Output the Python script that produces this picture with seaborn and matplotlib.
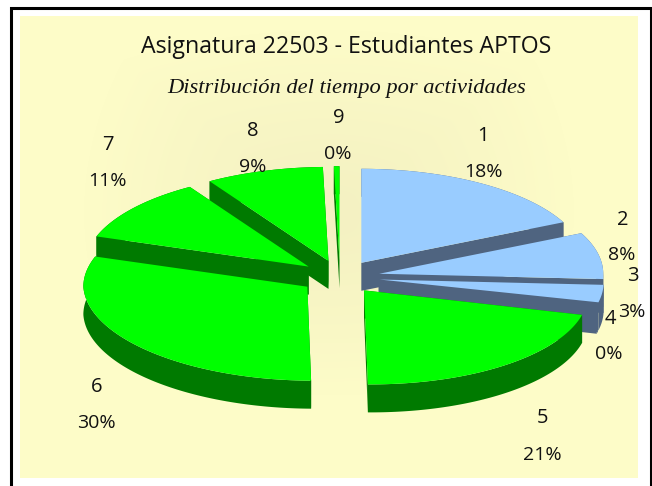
import numpy as np
import matplotlib
matplotlib.use("Agg")
import matplotlib.pyplot as plt
from matplotlib.patches import Rectangle
from matplotlib.colors import LinearSegmentedColormap
import seaborn as sns

# -------------------------------------------------------------
# Data
# -------------------------------------------------------------
activities = ["1", "2", "3", "4", "5", "6", "7", "8", "9"]
percents = [17.9, 8.0, 3.0, 0.3, 21.0, 30.0, 10.9, 8.5, 0.4]
shown_percents = ["18%", "8%", "3%", "0%", "21%", "30%", "11%", "9%", "0%"]
title = "Asignatura 22503 - Estudiantes APTOS"
subtitle = "Distribución del tiempo por actividades"

# -------------------------------------------------------------
# Layout / style (pixels of the 652x486 picture)
# -------------------------------------------------------------
CX, CY = 340, 277          # pie centre
RX, RY = 224, 94           # ellipse radii of the pie
DEPTH = 28                 # height of the slab
EXPLODE = 40               # offset of each slice
SHEAR = 0.07               # front edge leans to the right
SQUASH = RY / RX

BLUE = "#99ccff"
BLUE_DARK = "#4f6480"
GREEN = "#00ff00"
GREEN_DARK = "#007a00"
top_colors = [BLUE] * 4 + [GREEN] * 5
side_colors = [BLUE_DARK] * 4 + [GREEN_DARK] * 5

# name and percent label anchors, same order as activities
name_xy = [(483, 136), (623, 220), (633, 276), (610, 319), (543, 418),
           (97, 387), (108, 145), (253, 131), (339, 118)]
pct_xy = [(483, 172), (622, 255), (632, 312), (609, 354), (542, 455),
          (96, 423), (107, 181), (253, 167), (338, 154)]

sns.set_theme(style="white")
plt.rcParams["font.family"] = ["Open Sans", "DejaVu Sans"]

fig = plt.figure(figsize=(6.52, 4.86), dpi=100)
ax = fig.add_axes([0, 0, 1, 1])
ax.axis("off")
sns.despine(ax=ax, left=True, bottom=True)

# frame and soft background
ax.add_patch(Rectangle((11, 8), 640, 490, fc="white", ec="black", lw=2.2, zorder=0))
bg = LinearSegmentedColormap.from_list("bg", ["#f4f1c2", "#fdfcc8"])
gx, gy = np.meshgrid(np.linspace(-1, 1, 120), np.linspace(-1, 1, 90))
dist = np.maximum(np.abs(gx), np.abs(gy + 0.15)) ** 1.5 * 0.5 + np.hypot(gx, gy + 0.15) * 0.55
ax.imshow(dist, cmap=bg, extent=(20, 637.5, 478, 17), aspect="auto", zorder=0.5,
          interpolation="bilinear", vmin=0, vmax=0.8)
ax.set_xlim(0, 652)
ax.set_ylim(486, 0)


def project(ax0, ay0, ang):
    # clock angle (deg) to screen point on the top face of a slice
    a = np.radians(ang)
    y = -RY * np.cos(a)
    return ax0 + RX * np.sin(a) + SHEAR * np.maximum(y, 0), ay0 + y


# -------------------------------------------------------------
# Slices, painted from back to front
# -------------------------------------------------------------
fracs = np.array(percents) / sum(percents) * 360
ends = np.cumsum(fracs)
starts = ends - fracs
order = [8, 0, 7, 1, 6, 3, 2, 5, 4]
z = 2
for i in order:
    mid = np.radians((starts[i] + ends[i]) / 2)
    x0 = CX + EXPLODE * np.sin(mid)
    y0 = CY - EXPLODE * SQUASH * np.cos(mid)
    ang = np.linspace(starts[i], ends[i], max(int(fracs[i]), 2) + 1)
    px, py = project(x0, y0, ang)
    # outer wall
    ax.fill(np.r_[px, px[::-1]], np.r_[py, py[::-1] + DEPTH],
            color=side_colors[i], lw=0, zorder=z)
    # cut walls towards the centre
    for ex, ey in [(px[0], py[0]), (px[-1], py[-1])]:
        ax.fill([x0, ex, ex, x0], [y0, ey, ey + DEPTH, y0 + DEPTH],
                color=side_colors[i], lw=0, zorder=z)
    ax.fill(np.r_[x0, px], np.r_[y0, py], color=top_colors[i], lw=0, zorder=z + 0.5)
    z += 1

# -------------------------------------------------------------
# Texts
# -------------------------------------------------------------
ax.text(346, 47, title, ha="center", va="center", fontsize=16.7, color="#111111", zorder=30)
ax.text(347, 89, subtitle, ha="center", va="center", fontsize=16.2, style="italic",
        family="Liberation Serif", color="#111111", zorder=30)
for name, pct, nxy, pxy in zip(activities, shown_percents, name_xy, pct_xy):
    ax.text(*nxy, name, ha="center", va="center", fontsize=14.5, color="#111111", zorder=30)
    ax.text(*pxy, pct, ha="center", va="center", fontsize=14, color="#111111", zorder=30)

fig.savefig("out.png", dpi=100)
